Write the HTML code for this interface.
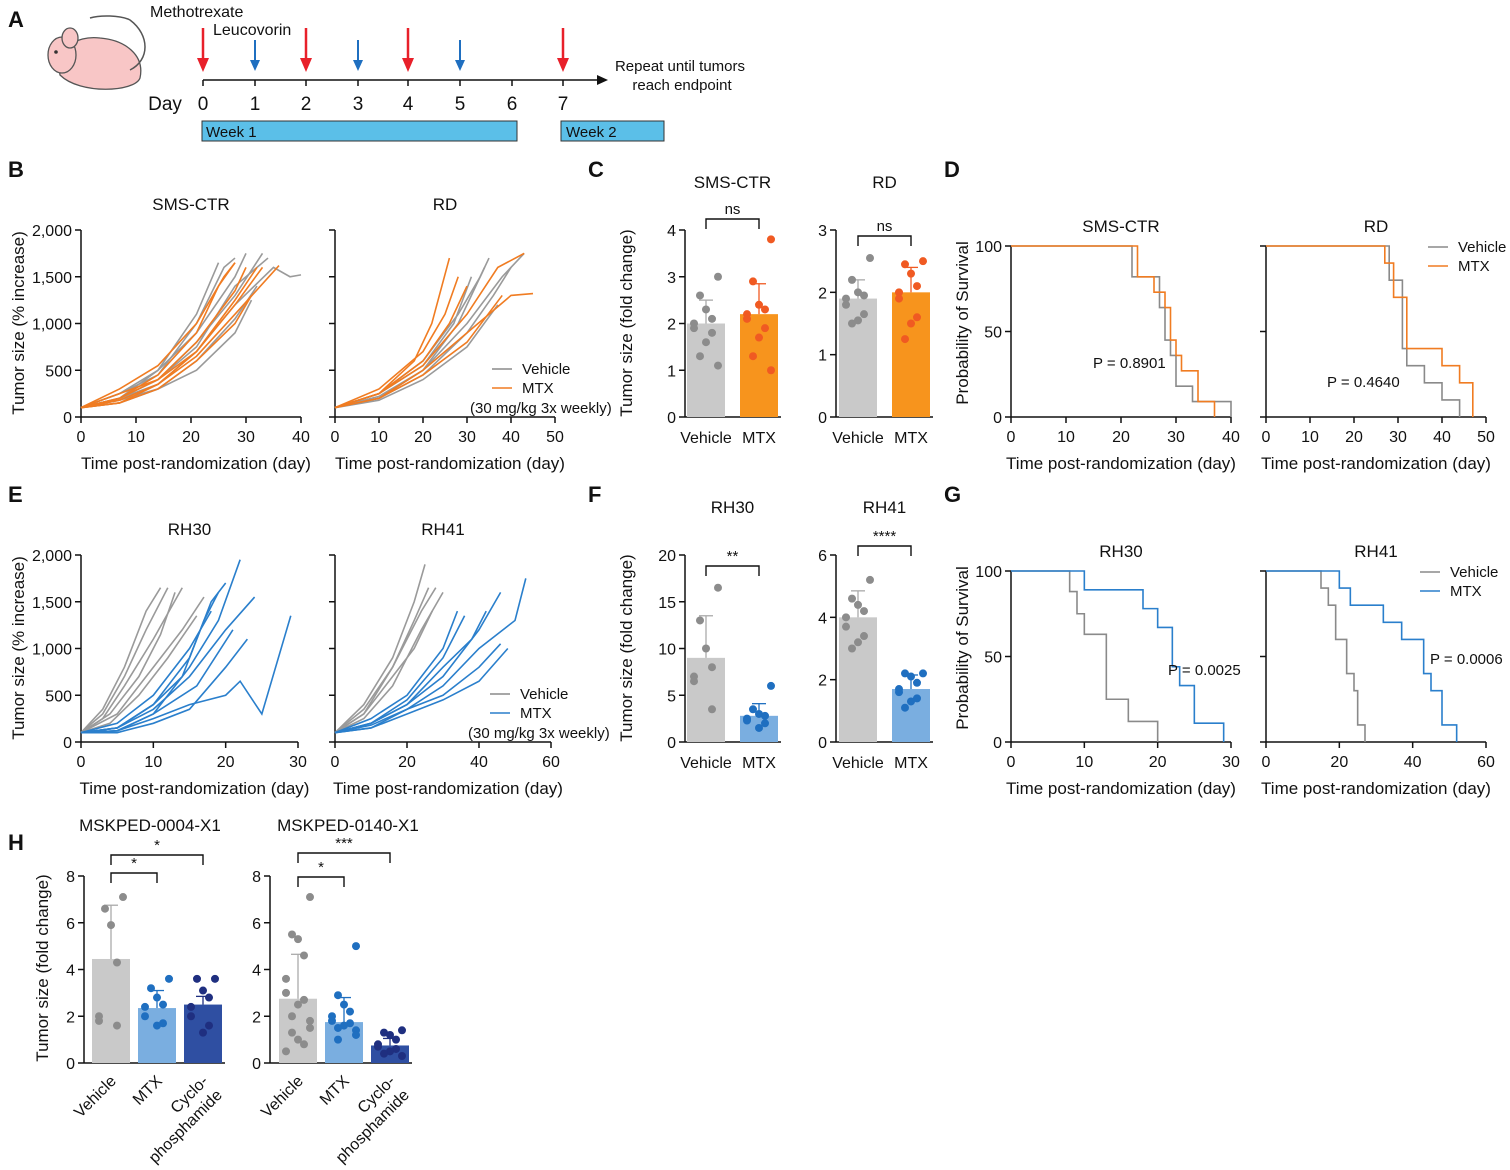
<!DOCTYPE html>
<html><head><meta charset="utf-8"><style>
html,body{margin:0;padding:0;background:#fff}
svg{display:block;font-family:"Liberation Sans",Arial,sans-serif}
</style></head><body>
<svg id="fig" width="1510" height="1170" viewBox="0 0 1510 1170" xmlns="http://www.w3.org/2000/svg"></svg>
<script>
// ---------- DATA ----------
const bSmsVehicle=[[[0,100],[7,250],[14,500],[21,900],[28,1500],[30,1750]],[[0,100],[7,200],[14,400],[21,800],[28,1300],[33,1750]],[[0,100],[7,200],[14,350],[21,700],[28,1200],[35,1600],[38,1500],[40,1520]],[[0,100],[7,250],[14,450],[21,1000],[26,1600],[28,1700]],[[0,100],[7,180],[14,300],[21,600],[28,1050],[32,1400]],[[0,100],[7,200],[14,500],[21,1100],[25,1650]],[[0,100],[7,150],[14,300],[21,500],[28,900],[31,1250]],[[0,100],[7,200],[14,400],[21,750],[28,1400],[34,1700]]];
const bSmsMtx=[[[0,100],[7,300],[14,550],[21,1000],[26,1500],[28,1650]],[[0,100],[7,200],[14,400],[21,700],[28,1200],[33,1600]],[[0,100],[7,150],[14,300],[21,600],[28,1000],[31,1300]],[[0,100],[7,200],[14,450],[21,900],[25,1400],[28,1650]],[[0,100],[7,180],[14,350],[21,650],[28,1100],[36,1620]],[[0,100],[7,250],[14,400],[21,800],[28,1350],[30,1600]],[[0,100],[7,150],[14,350],[21,700],[28,1250],[32,1600]]];
const bRdVehicle=[[[0,100],[10,250],[20,600],[28,1100],[33,1500],[35,1700]],[[0,100],[10,200],[20,500],[30,1000],[38,1500],[43,1750]],[[0,100],[10,250],[20,550],[27,1000],[31,1500]],[[0,100],[10,200],[20,450],[30,900],[36,1300],[40,1600]],[[0,100],[10,220],[20,500],[28,1000],[34,1600]],[[0,100],[10,180],[20,400],[30,750],[37,1200]]];
const bRdMtx=[[[0,100],[10,250],[18,600],[22,1000],[26,1700]],[[0,100],[10,300],[20,700],[25,1100],[28,1500]],[[0,100],[10,200],[20,500],[30,900],[40,1300],[45,1320]],[[0,100],[10,250],[20,550],[30,1100],[37,1600],[43,1750]],[[0,100],[10,200],[20,450],[30,800],[38,1300]],[[0,100],[10,250],[20,600],[26,1000],[30,1400]]];
const eRh30Vehicle=[[[0,100],[3,300],[6,700],[9,1200],[12,1650]],[[0,100],[3,250],[6,600],[10,1100],[14,1650]],[[0,100],[4,300],[8,700],[11,1150],[13,1600]],[[0,100],[4,200],[8,500],[12,900],[16,1350]],[[0,100],[3,350],[6,800],[9,1400],[11,1650]],[[0,100],[5,300],[10,800],[14,1200],[17,1550]]];
const eRh30Mtx=[[[0,100],[5,120],[10,300],[15,800],[19,1300],[22,1950]],[[0,100],[5,150],[10,400],[15,900],[18,1500],[20,1700]],[[0,100],[5,120],[10,250],[15,400],[20,500],[22,650],[25,300],[29,1350]],[[0,100],[5,150],[10,350],[15,700],[20,1200],[24,1550]],[[0,100],[5,200],[10,500],[15,1000],[18,1400]],[[0,100],[5,100],[10,200],[15,350],[20,800],[23,1100]],[[0,100],[5,150],[10,400],[14,700],[17,1300],[19,1600]],[[0,100],[5,120],[10,300],[16,600],[21,1200]]];
const eRh41Vehicle=[[[0,100],[8,300],[16,800],[22,1300],[26,1650]],[[0,100],[8,400],[16,900],[22,1500],[25,1900]],[[0,100],[8,350],[16,800],[24,1400],[28,1650]],[[0,100],[8,250],[16,600],[24,1200],[30,1600]],[[0,100],[8,300],[16,700],[22,1000],[27,1400]]];
const eRh41Mtx=[[[0,100],[10,200],[20,400],[30,700],[40,1200],[46,1600]],[[0,100],[10,150],[20,350],[30,600],[40,1000],[50,1300],[53,1750]],[[0,100],[10,200],[20,450],[30,900],[36,1350]],[[0,100],[10,180],[20,350],[30,500],[40,800],[46,1050]],[[0,100],[10,250],[20,500],[30,1000],[34,1400]],[[0,100],[10,150],[20,300],[30,450],[40,650],[48,1000]],[[0,100],[10,200],[20,400],[30,800],[38,1100],[42,1400]]];
const barGroups=["Vehicle","MTX"];
const cSmsMeans=[2.0,2.2], cSmsSd=[0.5,0.65];
const cSmsPts=[[3.0,2.6,2.3,2.1,2.0,1.9,1.8,1.6,1.3,1.1],[3.8,2.9,2.4,2.3,2.2,2.1,1.9,1.7,1.3,1.0]];
const cRdMeans=[1.9,2.0], cRdSd=[0.3,0.4];
const cRdPts=[[2.55,2.2,2.0,1.95,1.9,1.8,1.65,1.55,1.5],[2.5,2.45,2.3,2.1,2.0,1.9,1.6,1.5,1.25]];
const fRh30Means=[9,2.8], fRh30Sd=[4.5,1.3];
const fRh30Pts=[[16.5,13,10,8,7,6.5,3.5],[6,3.5,3,2.8,2.5,2.3,2,1.5]];
const fRh41Means=[4.0,1.7], fRh41Sd=[0.85,0.45];
const fRh41Pts=[[5.2,4.6,4.4,4.2,4.0,3.7,3.4,3.2,3.0],[2.2,2.2,2.1,1.9,1.7,1.6,1.4,1.3,1.1]];
const hGroups=["Vehicle","MTX","Cyclophosphamide"];
const h04Means=[4.45,2.35,2.5], h04Sd=[2.3,0.75,0.35];
const h04Pts=[[7.1,6.6,5.9,4.3,2.0,1.8,1.6],[3.6,3.2,2.8,2.5,2.4,2.0,1.7,1.6],[3.6,3.6,3.1,2.8,2.4,2.0,1.6,1.3]];
const h140Means=[2.75,1.75,0.75], h140Sd=[1.9,1.05,0.3];
const h140Pts=[[7.1,5.5,5.3,4.6,3.6,3.0,2.7,2.5,2.0,1.8,1.5,1.3,1.0,0.8,0.5],[5.0,2.9,2.5,2.2,2.0,1.8,1.7,1.6,1.5,1.4,1.2,1.0],[1.4,1.3,1.2,1.0,0.8,0.7,0.6,0.5,0.4,0.3]];
const kmSmsVehT=[22,27,28,29,30,33,40], kmSmsVehS=[82,64,45,36,18,9,0];
const kmSmsMtxT=[23,26,28,29,30,31,34,37], kmSmsMtxS=[82,73,64,45,36,27,9,0];
const kmRdVehT=[28,31,32,36,40,44], kmRdVehS=[80,40,30,20,10,0];
const kmRdMtxT=[27,29,32,40,44,47], kmRdMtxS=[90,70,40,30,20,0];
const kmRh30VehT=[8,9,10,13,16,20], kmRh30VehS=[88,75,63,25,12,0];
const kmRh30MtxT=[10,18,20,22,23,25,29], kmRh30MtxS=[89,78,67,44,33,11,0];
const kmRh41VehT=[15,17,19,22,24,25,27], kmRh41VehS=[90,80,60,40,30,10,0];
const kmRh41MtxT=[20,23,32,37,43,45,48,52], kmRh41MtxS=[90,80,70,60,40,30,10,0];

// ---------- HELPERS ----------
const svg=document.getElementById('fig');
const NS='http://www.w3.org/2000/svg';
function mk(tag,attrs,nm,parent){
  const el=document.createElementNS(NS,tag);
  for(const k in attrs) el.setAttribute(k,attrs[k]);
  
  
  (parent||svg).appendChild(el);return el;
}
function txt(x,y,s,size,nm,opts){
  opts=opts||{};
  const t=mk('text',{x:x,y:y,'font-size':size,'text-anchor':opts.anchor||'middle',fill:opts.fill||'#111','font-weight':opts.bold?'bold':'normal'},nm);
  if(opts.rot!==undefined) t.setAttribute('transform','rotate('+opts.rot+' '+x+' '+y+')');
  t.textContent=s;return t;
}
function line(x1,y1,x2,y2,nm,col,w){return mk('line',{x1:x1,y1:y1,x2:x2,y2:y2,stroke:col||'#111','stroke-width':w||1.5},nm);}
function lin(d0,d1,r0,r1){return v=>r0+(v-d0)/(d1-d0)*(r1-r0);}
function yAxis(x,ys,ticks,labels,nm){
  line(x,ys(ticks[0]),x,ys(ticks[ticks.length-1]),nm+'-y-axis');
  ticks.forEach((t,i)=>{line(x-6,ys(t),x,ys(t),nm+'-y-tick');
    if(labels) txt(x-9,ys(t)+6,labels[i],16,nm+'-y-tick-label',{anchor:'end'});});
}
function xAxis(y,xs,ticks,labels,nm){
  line(xs(ticks[0]),y,xs(ticks[ticks.length-1]),y,nm+'-x-axis');
  ticks.forEach((t,i)=>{line(xs(t),y,xs(t),y+6,nm+'-x-tick');
    txt(xs(t),y+25,labels[i],16,nm+'-x-tick-label');});
}
function spaghetti(series,xs,ys,col,nm){
  series.forEach(s=>{mk('polyline',{points:s.map(p=>xs(p[0])+','+ys(p[1])).join(' '),fill:'none',stroke:col,'stroke-width':1.6},nm);});
}
function growth(x0,x1,xmax,y0,y1,xt,showY,veh,mtx,mcol,title,nm){
  const xs=lin(0,xmax,x0,x1), ys=lin(0,2000,y0,y1);
  yAxis(x0,ys,[0,500,1000,1500,2000],showY?['0','500','1,000','1,500','2,000']:null,nm);
  xAxis(y0,xs,xt,xt.map(String),nm);
  spaghetti(veh,xs,ys,'#9a9a9a',nm+'-vehicle-line');
  spaghetti(mtx,xs,ys,mcol,nm+'-mtx-line');
  txt((x0+x1)/2,y1-20,title,17,nm+'-title');
  txt((x0+x1)/2+5,y0+52,'Time post-randomization (day)',17,nm+'-x-title');
}
function bars(ax,y0,y1,vmax,ticks,cx,means,sd,pts,barCols,dotCols,title,nm,xlabels){
  const ys=lin(0,vmax,y0,y1);
  yAxis(ax,ys,ticks,ticks.map(String),nm);
  line(ax,y0,cx[cx.length-1]+22,y0,nm+'-x-axis');
  means.forEach((m,i)=>{
    const bw=38;
    mk('rect',{x:cx[i]-bw/2,y:ys(m),width:bw,height:y0-ys(m),fill:barCols[i]},nm+'-bar');
    line(cx[i],ys(m),cx[i],ys(m+sd[i]),nm+'-error-bar',barCols[i]==='#c9c9c9'?'#aaa':dotCols[i],1.3);
    line(cx[i]-7,ys(m+sd[i]),cx[i]+7,ys(m+sd[i]),nm+'-error-cap',barCols[i]==='#c9c9c9'?'#aaa':dotCols[i],1.3);
    pts[i].forEach((v,j)=>{const off=((j%5)-2)*6*(j%2?1:-1);
      mk('circle',{cx:cx[i]+off,cy:ys(v),r:4,fill:dotCols[i]},nm+'-dot');});
    if(xlabels) txt(cx[i],y0+26,xlabels[i],16,nm+'-x-label');
  });
  if(title) txt((cx[0]+cx[cx.length-1])/2,y1-42,title,17,nm+'-title');
}
function bracket(xa,xb,y,label,nm){
  mk('polyline',{points:xa+','+(y+10)+' '+xa+','+y+' '+xb+','+y+' '+xb+','+(y+10),fill:'none',stroke:'#111','stroke-width':1.4},nm+'-bracket');
  txt((xa+xb)/2,y-5,label,15,nm+'-sig-label');
}
function km(x0,x1,xmax,xt,y0,y1,showY,vt,vs,mt,ms,mcol,title,pLabel,px,py,nm){
  const xs=lin(0,xmax,x0,x1), ys=lin(0,100,y0,y1);
  yAxis(x0,ys,[0,50,100],showY?['0','50','100']:null,nm);
  xAxis(y0,xs,xt,xt.map(String),nm);
  function path(T,S){let p='M'+xs(0)+','+ys(100);let cur=100;
    T.forEach((t,i)=>{p+=' L'+xs(t)+','+ys(cur)+' L'+xs(t)+','+ys(S[i]);cur=S[i];});return p;}
  mk('path',{d:path(vt,vs),fill:'none',stroke:'#8a8a8a','stroke-width':1.6},nm+'-vehicle-curve');
  mk('path',{d:path(mt,ms),fill:'none',stroke:mcol,'stroke-width':1.6},nm+'-mtx-curve');
  txt((x0+x1)/2,y1-14,title,17,nm+'-title');
  txt(px,py,pLabel,15,nm+'-p-value',{anchor:'start'});
  txt((x0+x1)/2,y0+52,'Time post-randomization (day)',17,nm+'-x-title');
}
function legend(x,y,mcol,extra,nm){
  line(x,y,x+20,y,nm+'-vehicle-swatch','#8a8a8a',1.6);
  txt(x+30,y+5,'Vehicle',15,nm+'-vehicle-label',{anchor:'start'});
  line(x,y+19,x+20,y+19,nm+'-mtx-swatch',mcol,1.6);
  txt(x+30,y+24,'MTX',15,nm+'-mtx-label',{anchor:'start'});
  if(extra) txt(x-22,y+44,extra,15,nm+'-dose-label',{anchor:'start'});
}
const ORG='#f07c22', BLU='#2a7fcc';

// ---------- PANEL LABELS ----------
[['A',8,27],['B',8,177],['C',588,177],['D',944,177],['E',8,502],['F',588,502],['G',944,502],['H',8,850]].forEach(p=>txt(p[1],p[2],p[0],22,'panel-label-'+p[0].toLowerCase(),{anchor:'start',bold:true}));

// ---------- PANEL A ----------
mk('path',{d:'M60,75 C55,50 75,35 100,38 C125,40 145,55 140,78 C135,92 80,95 60,75 Z',fill:'#f8c6c6',stroke:'#555','stroke-width':1.3},'mouse-body');
mk('ellipse',{cx:62,cy:55,rx:14,ry:18,fill:'#f8c6c6',stroke:'#555','stroke-width':1.3},'mouse-head');
mk('ellipse',{cx:70,cy:38,rx:8,ry:10,fill:'#f8c6c6',stroke:'#555','stroke-width':1.3},'mouse-ear');
mk('path',{d:'M130,70 C150,60 150,35 130,20 C120,15 100,15 90,18',fill:'none',stroke:'#555','stroke-width':1.5},'mouse-tail');
mk('circle',{cx:56,cy:52,r:1.8,fill:'#333'},'mouse-eye');
line(203,80,600,80,'timeline-axis','#111',1.5);
mk('polygon',{points:'608,80 597,75 597,85',fill:'#111'},'timeline-arrowhead');
const dayX=[203,255,306,358,408,460,512,563];
dayX.forEach((x,i)=>{line(x,80,x,86,'timeline-tick');txt(x,110,String(i),19,'day-label');});
txt(165,110,'Day',19,'day-title');
[203,306,408,563].forEach(x=>{line(x,28,x,62,'methotrexate-arrow','#e8202a',2.5);mk('polygon',{points:(x-6)+','+58+' '+(x+6)+','+58+' '+x+','+72,fill:'#e8202a'},'methotrexate-arrowhead');});
[255,358,460].forEach(x=>{line(x,40,x,62,'leucovorin-arrow','#1f6fc0',2);mk('polygon',{points:(x-5)+','+60+' '+(x+5)+','+60+' '+x+','+71,fill:'#1f6fc0'},'leucovorin-arrowhead');});
txt(150,17,'Methotrexate',16,'methotrexate-label',{anchor:'start'});
txt(213,35,'Leucovorin',16,'leucovorin-label',{anchor:'start'});
txt(680,71,'Repeat until tumors',15,'repeat-label');
txt(682,90,'reach endpoint',15,'repeat-label-2');
mk('rect',{x:202,y:121,width:315,height:20,fill:'#5bbfe8',stroke:'#333','stroke-width':1},'week-1-bar');
txt(206,137,'Week 1',15,'week-1-label',{anchor:'start'});
mk('rect',{x:561,y:121,width:103,height:20,fill:'#5bbfe8',stroke:'#333','stroke-width':1},'week-2-bar');
txt(566,137,'Week 2',15,'week-2-label',{anchor:'start'});

// ---------- PANEL B ----------
growth(81,301,40,417,230,[0,10,20,30,40],true,bSmsVehicle,bSmsMtx,ORG,'SMS-CTR','b-sms-ctr');
growth(335,555,50,417,230,[0,10,20,30,40,50],false,bRdVehicle,bRdMtx,ORG,'RD','b-rd');
txt(24,323,'Tumor size (% increase)',17,'b-y-title',{rot:-90});
legend(492,369,ORG,'(30 mg/kg 3x weekly)','b-legend');

// ---------- PANEL C ----------
bars(685,417,230,4,[0,1,2,3,4],[706,759],cSmsMeans,cSmsSd,cSmsPts,['#c9c9c9','#f7941d'],['#8c8c8c','#f05a22'],'SMS-CTR','c-sms-ctr',barGroups);
bars(836,417,230,3,[0,1,2,3],[858,911],cRdMeans,cRdSd,cRdPts,['#c9c9c9','#f7941d'],['#8c8c8c','#f05a22'],'RD','c-rd',barGroups);
bracket(706,759,219,'ns','c-sms-ctr');bracket(858,911,236,'ns','c-rd');
txt(632,323,'Tumor size (fold change)',17,'c-y-title',{rot:-90});

// ---------- PANEL D ----------
km(1011,1231,40,[0,10,20,30,40],417,246,true,kmSmsVehT,kmSmsVehS,kmSmsMtxT,kmSmsMtxS,ORG,'SMS-CTR','P = 0.8901',1093,368,'d-sms-ctr');
km(1266,1486,50,[0,10,20,30,40,50],417,246,false,kmRdVehT,kmRdVehS,kmRdMtxT,kmRdMtxS,ORG,'RD','P = 0.4640',1327,387,'d-rd');
txt(968,323,'Probability of Survival',17,'d-y-title',{rot:-90});
legend(1428,247,ORG,null,'d-legend');

// ---------- PANEL E ----------
growth(81,298,30,742,555,[0,10,20,30],true,eRh30Vehicle,eRh30Mtx,BLU,'RH30','e-rh30');
growth(335,551,60,742,555,[0,20,40,60],false,eRh41Vehicle,eRh41Mtx,BLU,'RH41','e-rh41');
txt(24,648,'Tumor size (% increase)',17,'e-y-title',{rot:-90});
legend(490,694,BLU,'(30 mg/kg 3x weekly)','e-legend');

// ---------- PANEL F ----------
bars(685,742,555,20,[0,5,10,15,20],[706,759],fRh30Means,fRh30Sd,fRh30Pts,['#c9c9c9','#7aaee0'],['#8c8c8c','#1f6fc0'],'RH30','f-rh30',barGroups);
bars(836,742,555,6,[0,2,4,6],[858,911],fRh41Means,fRh41Sd,fRh41Pts,['#c9c9c9','#7aaee0'],['#8c8c8c','#1f6fc0'],'RH41','f-rh41',barGroups);
bracket(706,759,566,'**','f-rh30');bracket(858,911,546,'****','f-rh41');
txt(632,648,'Tumor size (fold change)',17,'f-y-title',{rot:-90});

// ---------- PANEL G ----------
km(1011,1231,30,[0,10,20,30],742,571,true,kmRh30VehT,kmRh30VehS,kmRh30MtxT,kmRh30MtxS,BLU,'RH30','P = 0.0025',1168,675,'g-rh30');
km(1266,1486,60,[0,20,40,60],742,571,false,kmRh41VehT,kmRh41VehS,kmRh41MtxT,kmRh41MtxS,BLU,'RH41','P = 0.0006',1430,664,'g-rh41');
txt(968,648,'Probability of Survival',17,'g-y-title',{rot:-90});
legend(1420,572,BLU,null,'g-legend');

// ---------- PANEL H ----------
const hBarCols=['#c9c9c9','#7aaee0','#2f4fa2'], hDotCols=['#8c8c8c','#1f6fc0','#1f2f80'];
bars(84,1063,876,8,[0,2,4,6,8],[111,157,203],h04Means,h04Sd,h04Pts,hBarCols,hDotCols,null,'h-mskped-0004');
bars(270,1063,876,8,[0,2,4,6,8],[298,344,390],h140Means,h140Sd,h140Pts,hBarCols,hDotCols,null,'h-mskped-0140');
txt(150,831,'MSKPED-0004-X1',17,'h-mskped-0004-title');
txt(348,831,'MSKPED-0140-X1',17,'h-mskped-0140-title');
bracket(111,157,873,'*','h-0004-mtx');bracket(111,203,855,'*','h-0004-cyclo');
bracket(298,344,877,'*','h-0140-mtx');bracket(298,390,853,'***','h-0140-cyclo');
txt(48,968,'Tumor size (fold change)',17,'h-y-title',{rot:-90});
[[111,157,203],[298,344,390]].forEach((cx,k)=>{
  txt(cx[0]+6,1082,'Vehicle',16,'h-x-label-vehicle',{anchor:'end',rot:-45});
  txt(cx[1]+6,1082,'MTX',16,'h-x-label-mtx',{anchor:'end',rot:-45});
  txt(cx[2]+6,1082,'Cyclo-',16,'h-x-label-cyclo',{anchor:'end',rot:-45});
  txt(cx[2]+20,1096,'phosphamide',16,'h-x-label-phosphamide',{anchor:'end',rot:-45});
});
</script>
</body></html>
